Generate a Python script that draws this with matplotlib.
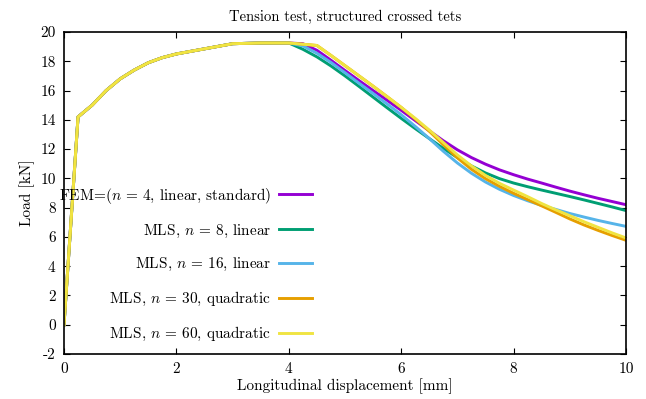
import numpy as np
import matplotlib
matplotlib.use("Agg")
import matplotlib.pyplot as plt

plt.rcParams['font.family'] = 'serif'
plt.rcParams['font.serif'] = ['cmr10', 'DejaVu Serif']
plt.rcParams['mathtext.fontset'] = 'cm'
plt.rcParams['axes.formatter.use_mathtext'] = True
plt.rcParams['axes.unicode_minus'] = False

# Shared loading branch (all series coincide up to ~4 mm)
x_rise = [0, 0.25, 0.5, 0.75, 1.0, 1.25, 1.5, 1.75, 2.0, 2.5, 3.0, 3.5, 4.0]
y_rise = [0, 14.2, 15.0, 16.0, 16.8, 17.4, 17.9, 18.25, 18.5, 18.85, 19.2, 19.25, 19.25]

# Softening branches
x_fem = [4.25, 4.5, 4.75, 5.0, 5.25, 5.5, 5.75, 6.0, 6.25, 6.5, 6.75, 7.0,
         7.25, 7.5, 7.75, 8.0, 8.25, 8.5, 8.75, 9.0, 9.25, 9.5, 9.75, 10.0]
y_fem = [19.2, 18.75, 18.07, 17.37, 16.68, 16.0, 15.33, 14.65, 13.95, 13.25, 12.57, 11.95,
         11.42, 10.97, 10.58, 10.25, 9.95, 9.68, 9.4, 9.13, 8.88, 8.64, 8.42, 8.2]

x_mls8 = [4.25, 4.5, 4.75, 5.0, 5.25, 5.5, 5.75, 6.0, 6.25, 6.5, 6.75, 7.0,
          7.25, 7.5, 7.75, 8.0, 8.25, 8.5, 8.75, 9.0, 9.25, 9.5, 9.75, 10.0]
y_mls8 = [18.82, 18.3, 17.68, 17.0, 16.28, 15.55, 14.82, 14.1, 13.4, 12.72, 12.05, 11.42,
          10.85, 10.37, 9.98, 9.68, 9.43, 9.2, 8.98, 8.76, 8.53, 8.29, 8.05, 7.8]

x_mls16 = [4.25, 4.5, 4.75, 5.0, 5.25, 5.5, 5.75, 6.0, 6.25, 6.5, 6.75, 7.0,
           7.25, 7.5, 7.75, 8.0, 8.25, 8.5, 8.75, 9.0, 9.25, 9.5, 9.75, 10.0]
y_mls16 = [19.05, 18.55, 17.92, 17.22, 16.5, 15.8, 15.08, 14.35, 13.55, 12.72, 11.85, 11.05,
           10.35, 9.75, 9.25, 8.83, 8.47, 8.15, 7.88, 7.6, 7.36, 7.13, 6.92, 6.72]

x_mls30 = [4.5, 4.75, 5.0, 5.25, 5.5, 5.75, 6.0, 6.25, 6.5, 6.75, 7.0,
           7.25, 7.5, 7.75, 8.0, 8.25, 8.5, 8.75, 9.0, 9.25, 9.5, 9.75, 10.0]
y_mls30 = [19.08, 18.4, 17.7, 17.0, 16.3, 15.58, 14.85, 14.05, 13.22, 12.3, 11.4,
           10.62, 9.98, 9.45, 8.98, 8.55, 8.12, 7.68, 7.23, 6.82, 6.45, 6.1, 5.77]

x_mls60 = [4.5, 4.75, 5.0, 5.25, 5.5, 5.75, 6.0, 6.25, 6.5, 6.75, 7.0,
           7.25, 7.5, 7.75, 8.0, 8.25, 8.5, 8.75, 9.0, 9.25, 9.5, 9.75, 10.0]
y_mls60 = [19.08, 18.4, 17.7, 17.0, 16.3, 15.58, 14.85, 14.1, 13.3, 12.45, 11.6,
           10.85, 10.2, 9.66, 9.2, 8.75, 8.28, 7.85, 7.45, 7.04, 6.66, 6.28, 5.93]

labels = [r'FEM=($n$ = 4, linear, standard)',
          r'MLS, $n$ = 8, linear',
          r'MLS, $n$ = 16, linear',
          r'MLS, $n$ = 30, quadratic',
          r'MLS, $n$ = 60, quadratic']
colors = ['#9400d3', '#009e73', '#56b4e9', '#e69f00', '#f0e442']

x_ticks = [0, 2, 4, 6, 8, 10]
y_ticks = [-2, 0, 2, 4, 6, 8, 10, 12, 14, 16, 18, 20]

fig = plt.figure(figsize=(6.46, 3.99), dpi=100)
ax = fig.add_axes([64/646, 45/399, 562/646, 322/399])

series = [(x_fem, y_fem), (x_mls8, y_mls8), (x_mls16, y_mls16),
          (x_mls30, y_mls30), (x_mls60, y_mls60)]
for (xs, ys), lab, c in zip(series, labels, colors):
    ax.plot(x_rise + xs, y_rise + ys, color=c, lw=2.1, label=lab,
            solid_joinstyle='round')

ax.set_xlim(0, 10)
ax.set_ylim(-2, 20)
ax.set_xticks(x_ticks)
ax.set_yticks(y_ticks)
ax.set_yticklabels([str(v) for v in y_ticks])
ax.set_xticklabels([str(v) for v in x_ticks])
ax.tick_params(direction='in', length=4.5, width=0.8, top=True, right=True,
               labelsize=11, pad=6)
for s in ax.spines.values():
    s.set_linewidth(1.2)

ax.set_title('Tension test, structured crossed tets', fontsize=10.5, pad=8)
ax.set_xlabel('Longitudinal displacement [mm]', fontsize=11, labelpad=2)
ax.set_ylabel('Load [kN]', fontsize=11, labelpad=4)

leg = ax.legend(loc='center right', bbox_to_anchor=(0.442, 0.278),
                frameon=False, markerfirst=False, fontsize=11,
                handlelength=2.2, handletextpad=0.5, labelspacing=1.1,
                borderpad=0, borderaxespad=0)

fig.savefig('out.png', dpi=100)
